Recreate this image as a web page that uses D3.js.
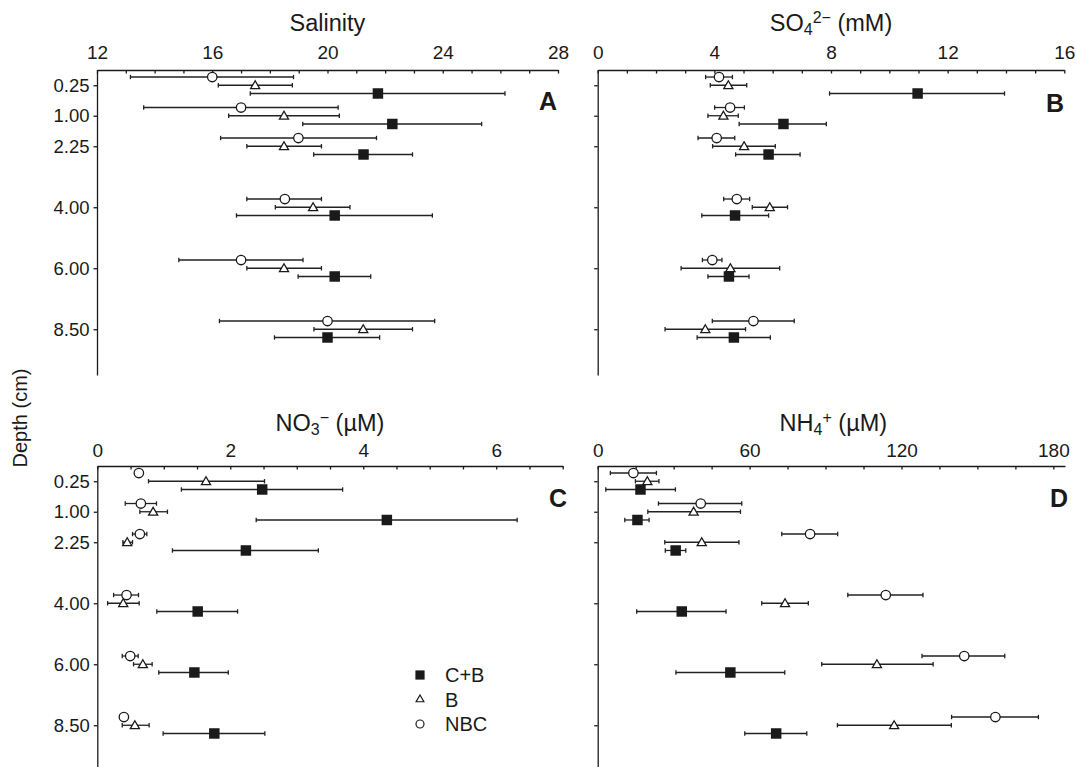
<!DOCTYPE html>
<html>
<head>
<meta charset="utf-8">
<script src="https://cdn.jsdelivr.net/npm/d3@7"></script>
<style>
  html, body { margin: 0; padding: 0; background: #fff; }
  svg { display: block; }
</style>
</head>
<body>
<script>
// ---------------- DATA ----------------
const depthLabels = ["0.25", "1.00", "2.25", "4.00", "6.00", "8.50"];
const depthSlots = [0, 1, 2, 4, 6, 8];
const seriesNames = ["C+B", "B", "NBC"];

// each entry: [mean, lower error, upper error] per depth
const salinityCB  = [[21.75,17.32,26.16],[22.25,19.14,25.35],[21.25,19.52,22.95],[20.25,16.84,23.64],[20.25,18.98,21.50],[20.00,18.16,21.81]];
const salinityB   = [[17.49,16.21,18.78],[18.49,16.57,20.41],[18.49,17.20,19.79],[19.50,18.19,20.78],[18.49,17.20,19.79],[21.24,19.53,22.95]];
const salinityNBC = [[16.00,13.16,18.82],[17.00,13.62,20.37],[18.99,16.29,21.70],[18.52,17.20,19.79],[17.00,14.84,19.15],[20.00,16.25,23.72]];

const sulfateCB  = [[10.97,7.95,13.95],[6.37,4.85,7.84],[5.86,4.73,6.94],[4.71,3.57,5.86],[4.50,3.78,5.19],[4.67,3.41,5.92]];
const sulfateB   = [[4.48,3.86,5.11],[4.31,3.78,4.82],[5.02,3.94,6.09],[5.90,5.30,6.51],[4.55,2.86,6.24],[3.69,2.31,5.07]];
const sulfateNBC = [[4.16,3.70,4.62],[4.54,4.01,5.03],[4.08,3.44,4.70],[4.77,4.32,5.21],[3.93,3.59,4.26],[5.34,3.93,6.74]];

const nitrateCB  = [[2.48,1.265,3.69],[4.355,2.39,6.315],[2.235,1.13,3.325],[1.51,0.895,2.11],[1.46,0.925,1.97],[1.76,0.99,2.52]];
const nitrateB   = [[1.635,0.77,2.515],[0.84,0.64,1.055],[0.45,0.385,0.53],[0.39,0.155,0.63],[0.685,0.545,0.825],[0.565,0.375,0.78]];
const nitrateNBC = [[0.625,0.625,0.625],[0.655,0.42,0.89],[0.64,0.53,0.745],[0.44,0.245,0.62],[0.495,0.375,0.615],[0.40,0.40,0.40]];

const ammoniumCB  = [[16.9,3.2,30.7],[15.7,10.7,20.3],[30.8,26.7,34.8],[33.2,15.4,50.7],[52.4,30.9,73.9],[70.5,58.1,82.6]];
const ammoniumB   = [[19.6,14.9,24.2],[37.9,19.8,56.4],[41.1,26.5,55.8],[74.0,64.8,83.2],[110.3,88.5,132.5],[117.1,94.7,139.7]];
const ammoniumNBC = [[14.1,5.0,23.2],[40.7,24.0,56.9],[83.9,72.7,94.8],[113.8,98.8,128.5],[144.8,128.1,160.8],[157.1,139.8,174.1]];

const salinityTicks = [12, 16, 20, 24, 28];
const sulfateTicks  = [0, 4, 8, 12, 16];
const nitrateTicks  = [0, 2, 4, 6];
const ammoniumTicks = [0, 60, 120, 180];

// ---------------- DRAW ----------------
const W = 1076, H = 767;
const FONT = "'Liberation Sans', Arial, Helvetica, sans-serif";
const INK = "#1a1a1a";

const svg = d3.select("body").append("svg")
  .attr("width", W).attr("height", H)
  .style("font-family", FONT);

const seriesStyle = {
  "C+B": { shape: d3.symbolSquare, size: 110, fill: INK, off: 0.27 },
  "B":   { shape: d3.symbolTriangle, size: 36, fill: "#fff", off: 0 },
  "NBC": { shape: d3.symbolCircle, size: 70, fill: "#fff", off: -0.27 }
};

function panel(cfg) {
  const x = d3.scaleLinear().domain(cfg.domain).range([cfg.x0, cfg.x1]);
  const y = d3.scaleLinear().domain([-0.5, 9.5]).range([cfg.top, cfg.top + 305]);
  const g = svg.append("g");

  // minor ticks (inside) on top axis
  const minor = d3.range(cfg.domain[0], cfg.domain[1] + 1e-9, cfg.minorStep);
  const axMinor = g.append("g").attr("transform", `translate(0,${cfg.top})`)
    .call(d3.axisTop(x).tickValues(minor).tickSize(-3.5).tickSizeOuter(0).tickFormat(""));
  axMinor.selectAll("path,line").attr("stroke", INK).attr("stroke-width", 1.3);

  // major labels
  const axMajor = g.append("g").attr("transform", `translate(0,${cfg.top})`)
    .call(d3.axisTop(x).tickValues(cfg.ticks).tickSize(0).tickPadding(cfg.tickPad)
      .tickSizeOuter(0).tickFormat(d3.format("d")));
  axMajor.select(".domain").remove();
  axMajor.selectAll("text").attr("font-size", 19).attr("fill", INK).style("font-family", FONT);

  // left axis
  const axL = g.append("g").attr("transform", `translate(${cfg.x0},0)`)
    .call(d3.axisLeft(y).tickValues(depthSlots).tickSize(3.5).tickSizeOuter(0).tickPadding(4)
      .tickFormat((d, i) => cfg.showDepth ? depthLabels[i] : ""));
  axL.selectAll("path,line").attr("stroke", INK).attr("stroke-width", 1.3);
  axL.selectAll("text").attr("font-size", 18.5).attr("fill", INK).style("font-family", FONT);

  // title
  const t = g.append("text").attr("x", (cfg.x0 + cfg.x1) / 2 + (cfg.titleDx || 0)).attr("y", cfg.titleY)
    .attr("text-anchor", "middle").attr("font-size", 23.5).attr("fill", INK);
  cfg.title.forEach(p => {
    const ts = t.append("tspan").text(p.t);
    if (p.k === "sub") ts.attr("font-size", 16).attr("dy", 4);
    if (p.k === "sup") ts.attr("font-size", 16).attr("dy", p.dy);
    if (p.k === "back") ts.attr("dy", p.dy);
  });

  // panel letter
  g.append("text").attr("x", cfg.letterX).attr("y", cfg.letterY).attr("text-anchor", "end")
    .attr("font-size", 25).attr("font-weight", "bold").attr("fill", INK).text(cfg.letter);

  // series
  cfg.series.forEach(([name, arr]) => {
    const st = seriesStyle[name];
    const rows = arr.map((v, i) => ({ m: v[0], lo: v[1], hi: v[2], s: depthSlots[i] + st.off }));
    const eb = g.append("g").attr("stroke", "#222").attr("stroke-width", 1.3);
    rows.filter(r => r.hi - r.lo > 1e-6).forEach(r => {
      const yy = y(r.s);
      eb.append("line").attr("x1", x(r.lo)).attr("x2", x(r.hi)).attr("y1", yy).attr("y2", yy);
      eb.append("line").attr("x1", x(r.lo)).attr("x2", x(r.lo)).attr("y1", yy - 2.2).attr("y2", yy + 2.2);
      eb.append("line").attr("x1", x(r.hi)).attr("x2", x(r.hi)).attr("y1", yy - 2.2).attr("y2", yy + 2.2);
    });
    g.append("g").selectAll("path").data(rows).join("path")
      .attr("transform", r => `translate(${x(r.m)},${y(r.s) + (name === "B" ? 0.8 : 0)})`)
      .attr("d", d3.symbol().type(st.shape).size(st.size))
      .attr("fill", st.fill).attr("stroke", INK).attr("stroke-width", name === "C+B" ? 0 : 1.3);
  });
}

panel({
  domain: [12, 28], ticks: salinityTicks, minorStep: 1, x0: 97, x1: 558, top: 70,
  showDepth: true, tickPad: 11, titleY: 31,
  title: [{ t: "Salinity" }], letter: "A", letterX: 557, letterY: 110,
  series: [["NBC", salinityNBC], ["B", salinityB], ["C+B", salinityCB]]
});
panel({
  domain: [0, 16], ticks: sulfateTicks, minorStep: 1, x0: 597.7, x1: 1064.3, top: 70,
  showDepth: false, tickPad: 11, titleY: 31,
  title: [{ t: "SO" }, { t: "4", k: "sub" }, { t: "2\u2212", k: "sup", dy: -12 }, { t: " (mM)", k: "back", dy: 8 }],
  letter: "B", letterX: 1064, letterY: 112,
  series: [["NBC", sulfateNBC], ["B", sulfateB], ["C+B", sulfateCB]]
});
panel({
  domain: [0, 7], ticks: nitrateTicks, minorStep: 0.5, x0: 97.3, x1: 562.7, top: 466,
  showDepth: true, tickPad: 9, titleY: 431,
  title: [{ t: "NO" }, { t: "3", k: "sub" }, { t: "\u2212", k: "sup", dy: -12 }, { t: " (\u00b5M)", k: "back", dy: 8 }],
  letter: "C", letterX: 567, letterY: 507,
  series: [["NBC", nitrateNBC], ["B", nitrateB], ["C+B", nitrateCB]]
});
panel({
  domain: [0, 184.6], ticks: ammoniumTicks, minorStep: 15, x0: 597.7, x1: 1065, top: 466,
  showDepth: false, tickPad: 9, titleY: 431, titleDx: 2,
  title: [{ t: "NH" }, { t: "4", k: "sub" }, { t: "+", k: "sup", dy: -12 }, { t: " (\u00b5M)", k: "back", dy: 8 }],
  letter: "D", letterX: 1068, letterY: 507,
  series: [["NBC", ammoniumNBC], ["B", ammoniumB], ["C+B", ammoniumCB]]
});

// y-axis title
svg.append("text").attr("transform", "translate(27,418) rotate(-90)")
  .attr("text-anchor", "middle").attr("font-size", 20).attr("fill", INK).text("Depth (cm)");

// legend
const legend = svg.append("g").attr("transform", "translate(420,675)");
const legSizes = { "C+B": 85, "B": 26, "NBC": 50 };
seriesNames.forEach((name, i) => {
  const st = seriesStyle[name];
  const row = legend.append("g").attr("transform", `translate(0,${i * 24.5})`);
  row.append("path").attr("d", d3.symbol().type(st.shape).size(legSizes[name]))
    .attr("fill", st.fill).attr("stroke", INK).attr("stroke-width", name === "C+B" ? 0 : 1.2);
  row.append("text").attr("x", 25).attr("y", 7).attr("font-size", 20).attr("fill", INK).text(name);
});
</script>
</body>
</html>
